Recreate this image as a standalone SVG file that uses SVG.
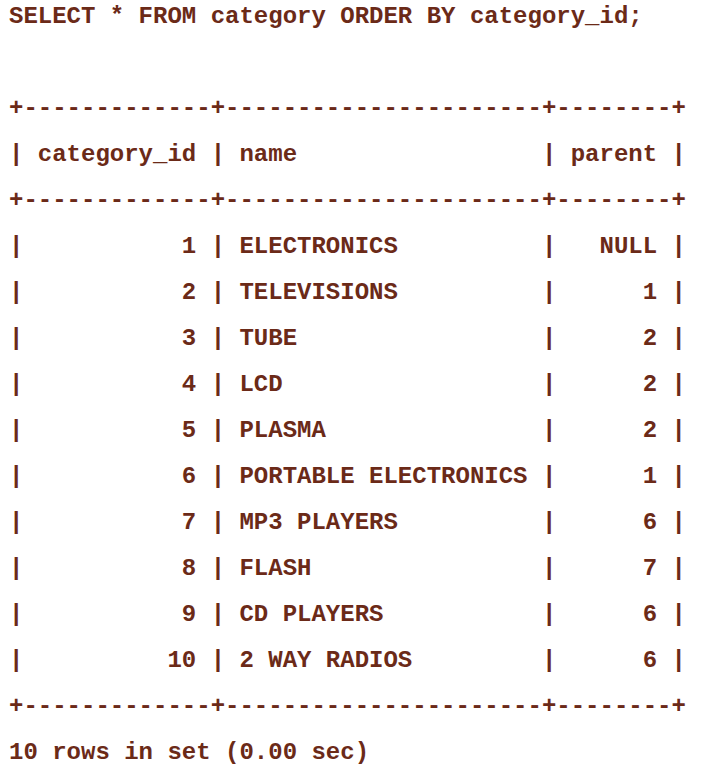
<svg xmlns="http://www.w3.org/2000/svg" width="718" height="778" viewBox="0 0 718 778">
<style>
text{font-family:"Liberation Mono","Courier New",monospace;font-size:24px;font-weight:bold;fill:#6b2a18;white-space:pre}
</style>
<rect width="718" height="778" fill="#ffffff"/>
<g id="query"><text x="9" y="23" xml:space="preserve">SELECT * FROM category ORDER BY category_id;</text></g>
<g id="table">
<text x="9" y="115" xml:space="preserve">+-------------+----------------------+--------+</text>
<text x="9" y="161" xml:space="preserve">| category_id | name                 | parent |</text>
<text x="9" y="207" xml:space="preserve">+-------------+----------------------+--------+</text>
<text x="9" y="253" xml:space="preserve">|           1 | ELECTRONICS          |   NULL |</text>
<text x="9" y="299" xml:space="preserve">|           2 | TELEVISIONS          |      1 |</text>
<text x="9" y="345" xml:space="preserve">|           3 | TUBE                 |      2 |</text>
<text x="9" y="391" xml:space="preserve">|           4 | LCD                  |      2 |</text>
<text x="9" y="437" xml:space="preserve">|           5 | PLASMA               |      2 |</text>
<text x="9" y="483" xml:space="preserve">|           6 | PORTABLE ELECTRONICS |      1 |</text>
<text x="9" y="529" xml:space="preserve">|           7 | MP3 PLAYERS          |      6 |</text>
<text x="9" y="575" xml:space="preserve">|           8 | FLASH                |      7 |</text>
<text x="9" y="621" xml:space="preserve">|           9 | CD PLAYERS           |      6 |</text>
<text x="9" y="667" xml:space="preserve">|          10 | 2 WAY RADIOS         |      6 |</text>
<text x="9" y="713" xml:space="preserve">+-------------+----------------------+--------+</text>
</g>
<g id="footer"><text x="9" y="759" xml:space="preserve">10 rows in set (0.00 sec)</text></g>
</svg>
